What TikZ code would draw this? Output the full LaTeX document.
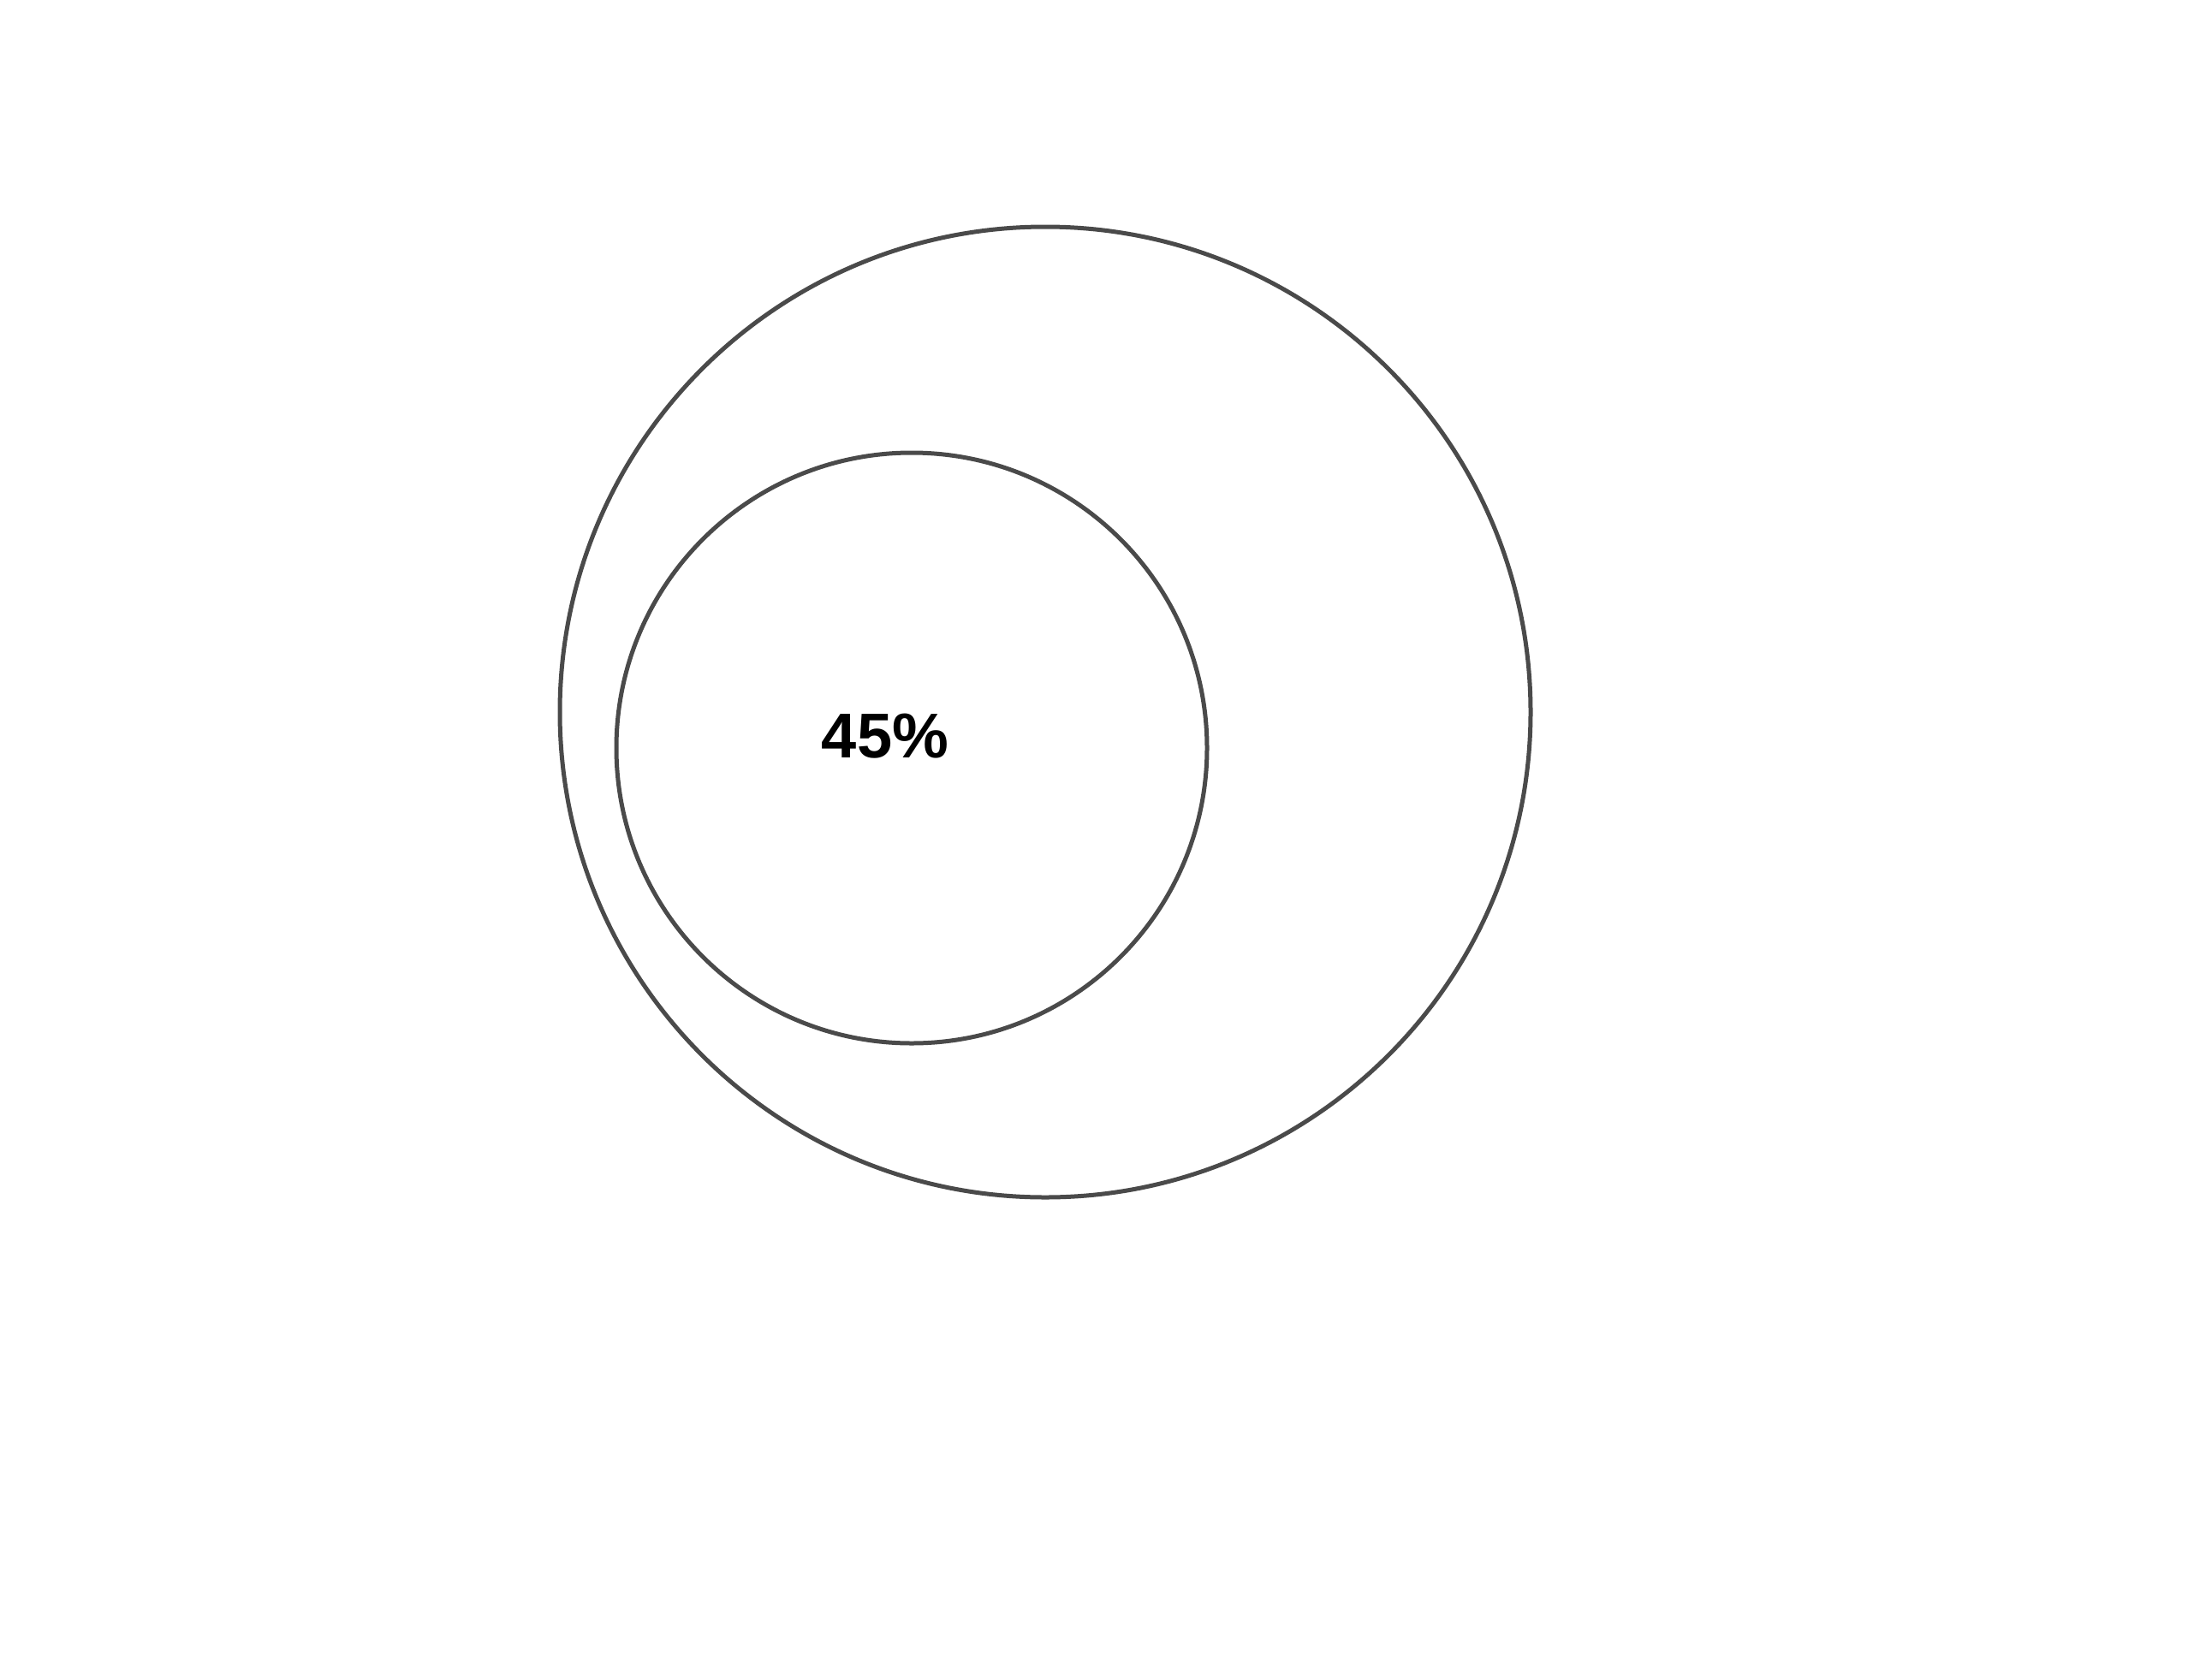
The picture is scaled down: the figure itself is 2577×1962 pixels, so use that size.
\documentclass[tikz,border=0pt]{standalone}
\usepackage{fontspec}
\setmainfont{Liberation Sans}
\definecolor{ringgray}{HTML}{4A4A4A}
\tikzset{ring/.style={draw=ringgray,line width=5pt,circle,inner sep=0pt}}
\begin{document}
\begin{tikzpicture}[x=1pt,y=-1pt]
\useasboundingbox (0,0) rectangle (2577,1962);
\node[ring,minimum size=1134pt] (outer) at (1221,832) {};
\node[ring,minimum size=690pt] (inner) at (1065,874) {};
\node[inner sep=0pt] (label) at (1034,860) {\fontsize{74}{88}\selectfont\bfseries 45\%};
\end{tikzpicture}
\end{document}
